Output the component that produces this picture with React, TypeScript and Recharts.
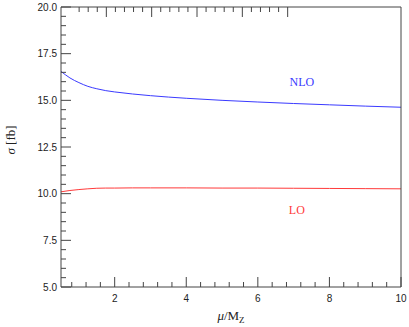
import React from 'react';
import { LineChart, Line, XAxis, YAxis, ReferenceDot } from 'recharts';

const mu = [0.5, 0.75, 1, 1.25, 1.5, 1.75, 2, 2.5, 3, 4, 5, 6, 7, 8, 9, 10];
const nlo = [16.55, 16.2, 15.95, 15.75, 15.62, 15.52, 15.45, 15.34, 15.25, 15.11, 15.0, 14.91, 14.83, 14.76, 14.69, 14.63];
const lo = [10.1, 10.17, 10.22, 10.26, 10.29, 10.3, 10.3, 10.31, 10.31, 10.31, 10.3, 10.3, 10.29, 10.28, 10.27, 10.26];

const xTicks = [0.8, 1.2, 1.6, 2, 2.4, 2.8, 3.2, 3.6, 4, 4.4, 4.8, 5.2, 5.6, 6, 6.4, 6.8, 7.2, 7.6, 8, 8.4, 8.8, 9.2, 9.6, 10];
const yTicks = [5, 5.5, 6, 6.5, 7, 7.5, 8, 8.5, 9, 9.5, 10, 10.5, 11, 11.5, 12, 12.5, 13, 13.5, 14, 14.5, 15, 15.5, 16, 16.5, 17, 17.5, 18, 18.5, 19, 19.5, 20];

const data = mu.map((m, i) => ({ mu: m, nlo: nlo[i], lo: lo[i] }));

const AX = '#444';
const TXT = '#222';
const BLUE = '#3a3aff';
const RED = '#ff3a3a';
const tickFont = 'Liberation Sans, Arial, sans-serif';
const serif = 'Liberation Serif, Times New Roman, serif';

const near = (v: number, step: number) => Math.abs(v / step - Math.round(v / step)) < 1e-6;

const BottomTick = (p: any) => {
  const { x, y, payload } = p;
  const major = near(payload.value, 2);
  return (
    <g>
      <line x1={x} x2={x} y1={y} y2={y - (major ? 10 : 5)} stroke={AX} />
      {major && (
        <text x={x} y={y + 15} textAnchor="middle" fontSize={10} fontFamily={tickFont} fill={TXT}>
          {String(payload.value)}
        </text>
      )}
    </g>
  );
};

const TopTick = (p: any) => {
  const { x, y, payload } = p;
  const major = near(payload.value, 2);
  return <line x1={x} x2={x} y1={y} y2={y + (major ? 10 : 5)} stroke={AX} />;
};

const LeftTick = (p: any) => {
  const { x, y, payload } = p;
  const major = near(payload.value, 2.5);
  return (
    <g>
      <line x1={x} x2={x + (major ? 10 : 5)} y1={y} y2={y} stroke={AX} />
      {major && (
        <text x={x - 4} y={y} dy="0.35em" textAnchor="end" fontSize={10} fontFamily={tickFont} fill={TXT}>
          {Number(payload.value).toFixed(1)}
        </text>
      )}
    </g>
  );
};

const RightTick = (p: any) => {
  const { x, y, payload } = p;
  const major = near(payload.value, 2.5);
  return <line x1={x} x2={x - (major ? 10 : 5)} y1={y} y2={y} stroke={AX} />;
};

const XTitle = (props: any) => {
  const vb = props.viewBox || {};
  const cx = (vb.x || 61) + (vb.width || 340) / 2;
  return (
    <text x={cx} y={320} textAnchor="middle" fontSize={13} fontFamily={serif} fill={TXT}>
      <tspan fontStyle="italic">μ</tspan>
      <tspan>/M</tspan>
      <tspan fontSize={9} dy={3}>Z</tspan>
    </text>
  );
};

const YTitle = () => (
  <text x={15} y={140} transform="rotate(-90 15 140)" textAnchor="middle" fontSize={13} fontFamily={serif} fill={TXT}>
    <tspan fontStyle="italic">σ</tspan>
    <tspan>{'  [fb]'}</tspan>
  </text>
);

export default function App() {
  return (
    <div style={{ position: 'absolute', left: 0, top: 0, background: '#fff' }}>
      <LineChart width={409} height={327} data={data} margin={{ top: 0, right: 0, bottom: 0, left: 0 }}>
        <XAxis
          xAxisId="b"
          dataKey="mu"
          type="number"
          domain={[0.5, 10]}
          ticks={xTicks}
          interval={0}
          orientation="bottom"
          height={40}
          tickSize={0}
          tickMargin={0}
          tick={BottomTick}
          axisLine={{ stroke: AX }}
          tickLine={false}
          label={{ content: XTitle }}
        />
        <XAxis
          xAxisId="t"
          type="number"
          domain={[0.5, 10]}
          ticks={xTicks}
          interval={0}
          orientation="top"
          height={7}
          tickSize={0}
          tickMargin={0}
          tick={TopTick}
          axisLine={{ stroke: AX }}
          tickLine={false}
        />
        <YAxis
          yAxisId="l"
          type="number"
          domain={[5, 20]}
          ticks={yTicks}
          interval={0}
          orientation="left"
          width={61}
          tickSize={0}
          tickMargin={0}
          tick={LeftTick}
          axisLine={{ stroke: AX }}
          tickLine={false}
          label={{ content: YTitle }}
        />
        <YAxis
          yAxisId="r"
          type="number"
          domain={[5, 20]}
          ticks={yTicks}
          interval={0}
          orientation="right"
          width={8}
          tickSize={0}
          tickMargin={0}
          tick={RightTick}
          axisLine={{ stroke: AX }}
          tickLine={false}
        />
        <Line xAxisId="b" yAxisId="l" type="monotone" dataKey="nlo" stroke={BLUE} strokeWidth={1} dot={false} isAnimationActive={false} />
        <Line xAxisId="b" yAxisId="l" type="monotone" dataKey="lo" stroke={RED} strokeWidth={1} dot={false} isAnimationActive={false} />
        <ReferenceDot
          xAxisId="b"
          yAxisId="l"
          x={7.23}
          y={15.98}
          r={0}
          stroke="none"
          fill="none"
          label={{ value: 'NLO', position: 'center', fill: BLUE, fontSize: 12, fontFamily: serif }}
        />
        <ReferenceDot
          xAxisId="b"
          yAxisId="l"
          x={7.09}
          y={9.12}
          r={0}
          stroke="none"
          fill="none"
          label={{ value: 'LO', position: 'center', fill: RED, fontSize: 12, fontFamily: serif }}
        />
      </LineChart>
    </div>
  );
}
